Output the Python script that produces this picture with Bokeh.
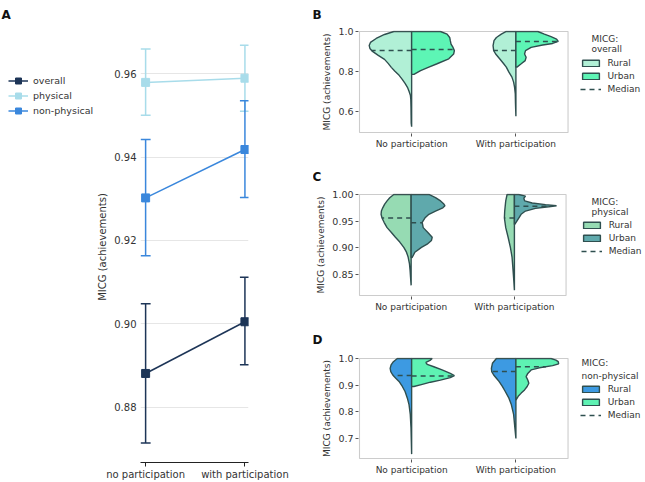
import numpy as np
from bokeh.plotting import figure
from bokeh.models import (ColumnDataSource, Whisker, TeeHead, Legend, LegendItem, Title, Label,
                          FixedTicker, Range1d, NumeralTickFormatter, BoxAnnotation)
from bokeh.layouts import row, column
from bokeh.embed import file_html
from bokeh.resources import INLINE

# ---------------- Panel A data ----------------
a_categories = ["no participation", "with participation"]
a_series = ["overall", "physical", "non-physical"]
a_colors = ["#1d3557", "#a8dcea", "#3a87dc"]
a_overall_mean = [0.8881, 0.9005]
a_overall_lo = [0.8714, 0.8902]
a_overall_hi = [0.9048, 0.9112]
a_physical_mean = [0.9579, 0.9589]
a_physical_lo = [0.9500, 0.9510]
a_physical_hi = [0.9659, 0.9668]
a_nonphys_mean = [0.9302, 0.9418]
a_nonphys_lo = [0.9163, 0.9303]
a_nonphys_hi = [0.9442, 0.9535]
a_yticks = [0.88, 0.90, 0.92, 0.94, 0.96]

# ---------------- Violin data (y level, half width) ----------------
v_categories = ["No participation", "With participation"]
v_groups = ["Rural", "Urban", "Median"]

# Panel B (overall)
b_np_rural_y = [1.0, 0.985, 0.965, 0.945, 0.93, 0.915, 0.90, 0.88, 0.86, 0.84, 0.82, 0.80, 0.78, 0.76, 0.74, 0.72, 0.70, 0.68, 0.66, 0.62, 0.58, 0.54, 0.522]
b_np_rural_w = [0.17, 0.26, 0.34, 0.395, 0.407, 0.40, 0.375, 0.32, 0.26, 0.225, 0.195, 0.16, 0.12, 0.09, 0.063, 0.04, 0.025, 0.012, 0.008, 0.006, 0.005, 0.004, 0.0]
b_np_urban_y = [1.0, 0.987, 0.97, 0.954, 0.937, 0.92, 0.904, 0.887, 0.863, 0.838, 0.821, 0.804, 0.785]
b_np_urban_w = [0.276, 0.34, 0.365, 0.371, 0.378, 0.397, 0.41, 0.403, 0.356, 0.244, 0.165, 0.086, 0.022]
b_wp_rural_y = [1.0, 0.987, 0.97, 0.954, 0.929, 0.904, 0.887, 0.863, 0.838, 0.821, 0.796, 0.771, 0.746, 0.721, 0.688, 0.64, 0.575]
b_wp_rural_w = [0.092, 0.14, 0.187, 0.21, 0.219, 0.213, 0.194, 0.156, 0.117, 0.092, 0.067, 0.038, 0.022, 0.013, 0.006, 0.004, 0.0]
b_wp_urban_y = [1.0, 0.987, 0.974, 0.962, 0.95, 0.94, 0.932, 0.92, 0.904, 0.887, 0.871, 0.854, 0.838, 0.821]
b_wp_urban_w = [0.21, 0.273, 0.337, 0.39, 0.406, 0.352, 0.257, 0.146, 0.092, 0.083, 0.098, 0.089, 0.051, 0.01]
b_median_rural = [0.904, 0.904]
b_median_urban = [0.910, 0.950]
b_yticks = [0.6, 0.8, 1.0]
b_ylim = (0.493, 1.0)

# Panel C (physical)
c_np_rural_y = [1.0, 0.994, 0.988, 0.982, 0.975, 0.969, 0.963, 0.956, 0.948, 0.938, 0.929, 0.92, 0.911, 0.901, 0.892, 0.883, 0.87, 0.858, 0.846, 0.83]
c_np_rural_w = [0.168, 0.207, 0.233, 0.256, 0.275, 0.288, 0.291, 0.282, 0.262, 0.233, 0.191, 0.152, 0.11, 0.071, 0.045, 0.029, 0.016, 0.01, 0.006, 0.0]
c_np_urban_y = [1.0, 0.994, 0.988, 0.982, 0.979, 0.975, 0.969, 0.963, 0.956, 0.948, 0.938, 0.929, 0.92, 0.914, 0.907, 0.901, 0.892, 0.882]
c_np_urban_w = [0.172, 0.236, 0.285, 0.317, 0.327, 0.307, 0.236, 0.172, 0.133, 0.107, 0.117, 0.162, 0.204, 0.197, 0.155, 0.1, 0.036, 0.01]
c_wp_rural_y = [1.0, 0.988, 0.969, 0.956, 0.938, 0.92, 0.901, 0.883, 0.858, 0.839, 0.821]
c_wp_rural_w = [0.071, 0.084, 0.094, 0.097, 0.084, 0.061, 0.039, 0.023, 0.013, 0.006, 0.0]
c_wp_urban_y = [1.0, 0.997, 0.993, 0.988, 0.984, 0.981, 0.979, 0.977, 0.974, 0.969, 0.963, 0.956, 0.948, 0.944]
c_wp_urban_w = [0.042, 0.107, 0.091, 0.1, 0.172, 0.301, 0.408, 0.333, 0.204, 0.107, 0.065, 0.042, 0.016, 0.003]
c_median_rural = [0.956, 0.956]
c_median_urban = [0.947, 0.978]
c_yticks = [0.85, 0.90, 0.95, 1.00]
c_ylim = (0.811, 1.0)

# Panel D (non-physical)
d_np_rural_y = [1.0, 0.988, 0.976, 0.963, 0.951, 0.938, 0.926, 0.914, 0.895, 0.876, 0.851, 0.827, 0.79, 0.74, 0.69, 0.641]
d_np_rural_w = [0.137, 0.175, 0.197, 0.206, 0.2, 0.181, 0.152, 0.121, 0.089, 0.063, 0.041, 0.025, 0.013, 0.006, 0.003, 0.0]
d_np_urban_y = [1.0, 0.994, 0.985, 0.978, 0.969, 0.957, 0.944, 0.936, 0.928, 0.919, 0.911, 0.903, 0.895]
d_np_urban_w = [0.197, 0.181, 0.137, 0.149, 0.213, 0.292, 0.371, 0.41, 0.371, 0.276, 0.181, 0.102, 0.022]
d_wp_rural_y = [1.0, 0.982, 0.963, 0.951, 0.938, 0.926, 0.914, 0.895, 0.876, 0.851, 0.827, 0.79, 0.74, 0.70]
d_wp_rural_w = [0.187, 0.225, 0.235, 0.232, 0.213, 0.187, 0.162, 0.13, 0.102, 0.067, 0.044, 0.022, 0.01, 0.0]
d_wp_urban_y = [1.0, 0.994, 0.988, 0.98, 0.973, 0.965, 0.957, 0.944, 0.932, 0.919, 0.907, 0.895, 0.882, 0.87, 0.858, 0.845]
d_wp_urban_w = [0.337, 0.384, 0.406, 0.41, 0.352, 0.225, 0.146, 0.114, 0.098, 0.114, 0.124, 0.108, 0.083, 0.051, 0.022, 0.003]
d_median_rural = [0.936, 0.951]
d_median_urban = [0.934, 0.969]
d_yticks = [0.7, 0.8, 0.9, 1.0]
d_ylim = (0.6245, 1.0)

FONT = "DejaVu Sans"
TXT = "#333333"
EDGE = "#2f4f4f"
FRAME = "#555555"
H = 482


def letter_title(letter, offset, standoff):
    return Title(text=letter, align="left", offset=offset, vertical_align="top",
                 standoff=standoff, text_font=FONT, text_font_size="12px",
                 text_font_style="bold", text_color="#111111")


# ---------------- Panel A legend strip ----------------
strip = figure(width=94, height=H, min_border_left=8, min_border_right=0,
               min_border_top=30, min_border_bottom=19,
               x_axis_type=None, y_axis_type=None,
               x_range=Range1d(10, 11), y_range=Range1d(10, 11),
               output_backend="svg", toolbar_location=None)
strip.outline_line_color = None
strip.grid.grid_line_color = None
strip_items = []
for name, mean, color in zip(a_series, [a_overall_mean, a_physical_mean, a_nonphys_mean], a_colors):
    lr0 = strip.line([0, 1], mean, line_color=color, line_width=1.5)
    sr0 = strip.scatter([0, 1], mean, marker="square", size=8, fill_color=color, line_color=color)
    strip_items.append(LegendItem(label=name, renderers=[lr0, sr0]))
leg_a = Legend(items=strip_items, location=(0, 344), glyph_width=20, glyph_height=15,
               label_height=15, spacing=0, label_standoff=5, padding=0, margin=0,
               border_line_color=None, background_fill_alpha=0,
               label_text_font=FONT, label_text_font_size="9.5px", label_text_color=TXT)
strip.add_layout(leg_a)
strip.add_layout(letter_title("A", -7, 15), "above")

# ---------------- Panel A ----------------
pa = figure(width=219, height=H, min_border_left=42, min_border_right=65,
            min_border_top=30, min_border_bottom=19,
            x_range=Range1d(-0.0515, 1.036), y_range=Range1d(0.86675, 0.97010),
            output_backend="svg", toolbar_location=None)
pa.outline_line_color = None
pa.xgrid.grid_line_color = None
pa.ygrid.grid_line_color = "#e6e6e6"
pa.yaxis.ticker = FixedTicker(ticks=a_yticks)
pa.yaxis.formatter = NumeralTickFormatter(format="0.00")
pa.yaxis.axis_line_color = None
pa.yaxis.major_tick_line_color = None
pa.yaxis.major_tick_in = 0
pa.yaxis.major_tick_out = 0
pa.yaxis.minor_tick_line_color = None
pa.yaxis.minor_tick_in = 0
pa.yaxis.minor_tick_out = 0
pa.yaxis.major_label_standoff = 4
pa.yaxis.axis_label = "MICG (achievements)"
pa.yaxis.axis_label_standoff = 3
pa.xaxis.ticker = FixedTicker(ticks=[0, 1])
pa.xaxis.major_label_overrides = {i: c for i, c in enumerate(a_categories)}
pa.xaxis.axis_line_color = "#222222"
pa.xaxis.axis_line_width = 1.2
pa.xaxis.major_tick_line_color = "#222222"
pa.xaxis.major_tick_in = 0
pa.xaxis.major_tick_out = 4
pa.xaxis.minor_tick_line_color = None
pa.xaxis.major_label_standoff = 2
for ax in (pa.xaxis, pa.yaxis):
    ax.major_label_text_font = FONT
    ax.major_label_text_font_size = "10px"
    ax.major_label_text_color = TXT
    ax.axis_label_text_font = FONT
    ax.axis_label_text_font_size = "10px"
    ax.axis_label_text_font_style = "normal"
    ax.axis_label_text_color = TXT

a_x = [0, 1]
for name, mean, lo, hi, color in zip(
        a_series,
        [a_overall_mean, a_physical_mean, a_nonphys_mean],
        [a_overall_lo, a_physical_lo, a_nonphys_lo],
        [a_overall_hi, a_physical_hi, a_nonphys_hi],
        a_colors):
    src = ColumnDataSource(dict(x=a_x, y=mean, lo=lo, hi=hi))
    wk = Whisker(source=src, base="x", upper="hi", lower="lo", dimension="height",
                 line_color=color, line_width=1.5,
                 upper_head=TeeHead(size=10, line_color=color, line_width=1.5),
                 lower_head=TeeHead(size=10, line_color=color, line_width=1.5))
    pa.add_layout(wk)
    pa.line("x", "y", source=src, line_color=color, line_width=1.5)
    pa.scatter("x", "y", source=src, marker="square", size=8, fill_color=color, line_color=color)


# ---------------- Violin panels ----------------
def half_poly(center, side, ys, ws):
    ys = list(ys)
    ws = list(ws)
    xs = [center + side * w for w in ws] + [center, center]
    yy = ys + [ys[-1], ys[0]]
    return xs, yy


def edge_at(level, ys, ws):
    return float(np.interp(level, np.array(ys)[::-1], np.array(ws)[::-1]))


MBL = 43


def violin_panel(letter, height, mbt, frame_h, px_x, ylim, yticks, yfmt,
                 rural_color, urban_color, rural_halves, urban_halves,
                 med_rural, med_urban, subtitle, leg_loc, title_x, title_y, letter_standoff):
    width = 332
    frame_w = width - MBL
    px_y = (frame_h - 2) / (ylim[1] - ylim[0])
    x0r = -0.5 - 1.0 / px_x
    y1r = ylim[1] + 1.0 / px_y
    p = figure(width=width, height=height, min_border_left=MBL, min_border_right=0,
               min_border_top=mbt, min_border_bottom=height - mbt - frame_h,
               x_range=Range1d(x0r, x0r + frame_w / px_x),
               y_range=Range1d(y1r - frame_h / px_y, y1r),
               output_backend="svg", toolbar_location=None)
    p.grid.grid_line_color = None
    p.outline_line_color = None
    p.add_layout(BoxAnnotation(left=-0.5, right=1.5, bottom=ylim[0], top=ylim[1],
                               fill_alpha=0, line_color=FRAME, line_width=1.1))
    p.yaxis.ticker = FixedTicker(ticks=yticks)
    p.yaxis.formatter = NumeralTickFormatter(format=yfmt)
    p.xaxis.ticker = FixedTicker(ticks=[0, 1])
    p.xaxis.major_label_overrides = {i: c for i, c in enumerate(v_categories)}
    p.yaxis.axis_label = "MICG (achievements)"
    for ax, fs in ((p.xaxis, "9px"), (p.yaxis, "9.5px")):
        ax.axis_line_color = None
        ax.major_tick_line_color = FRAME
        ax.major_tick_in = 0
        ax.major_tick_out = 3
        ax.minor_tick_line_color = None
        ax.major_label_standoff = 2
        ax.major_label_text_font = FONT
        ax.major_label_text_font_size = fs
        ax.major_label_text_color = TXT
        ax.axis_label_text_font = FONT
        ax.axis_label_text_font_size = "9px"
        ax.axis_label_text_font_style = "normal"
        ax.axis_label_text_color = TXT
        ax.axis_label_standoff = 3

    rx, ry, ux, uy = [], [], [], []
    for c, (ys, ws) in enumerate(rural_halves):
        xs, yy = half_poly(c, -1, ys, ws)
        rx.append(xs); ry.append(yy)
    for c, (ys, ws) in enumerate(urban_halves):
        xs, yy = half_poly(c, 1, ys, ws)
        ux.append(xs); uy.append(yy)
    rr = p.patches(rx, ry, fill_color=rural_color, line_color=EDGE, line_width=1.4)
    ur = p.patches(ux, uy, fill_color=urban_color, line_color=EDGE, line_width=1.4)

    x0, x1, y0 = [], [], []
    for c, (ys, ws) in enumerate(rural_halves):
        x0.append(c); x1.append(c - edge_at(med_rural[c], ys, ws)); y0.append(med_rural[c])
    for c, (ys, ws) in enumerate(urban_halves):
        x0.append(c); x1.append(c + edge_at(med_urban[c], ys, ws)); y0.append(med_urban[c])
    mr = p.segment(x0=x0, y0=y0, x1=x1, y1=y0, line_color=EDGE, line_width=1.5,
                   line_dash="5 4")

    leg = Legend(items=[LegendItem(label=v_groups[0], renderers=[rr]),
                        LegendItem(label=v_groups[1], renderers=[ur]),
                        LegendItem(label=v_groups[2], renderers=[mr])],
                 location=leg_loc, glyph_width=21, glyph_height=8, label_height=12,
                 spacing=1, label_standoff=7, padding=0, margin=0,
                 border_line_color=None, background_fill_alpha=0,
                 label_text_font=FONT, label_text_font_size="9px", label_text_color=TXT)
    p.add_layout(leg)
    for txt, ty in (("MICG:", title_y[0]), (subtitle, title_y[1])):
        p.add_layout(Label(x=title_x, y=ty, x_units="screen", y_units="screen", text=txt,
                           text_font=FONT, text_font_size="9px", text_color=TXT,
                           text_baseline="middle", text_align="left"))
    p.add_layout(letter_title(letter, -MBL - 3, letter_standoff), "above")
    return p


pb = violin_panel("B", 161, 29, 104, 105, b_ylim, b_yticks, "0.0",
                  "#b1f0d6", "#5df5b5",
                  [(b_np_rural_y, b_np_rural_w), (b_wp_rural_y, b_wp_rural_w)],
                  [(b_np_urban_y, b_np_urban_w), (b_wp_urban_y, b_wp_urban_w)],
                  b_median_rural, b_median_urban, "overall", (221.5, 38.4), 233, (94.7, 84.7), 14)
pc = violin_panel("C", 163, 31, 104, 104, c_ylim, c_yticks, "0.00",
                  "#96dbb3", "#5fa9ac",
                  [(c_np_rural_y, c_np_rural_w), (c_wp_rural_y, c_wp_rural_w)],
                  [(c_np_urban_y, c_np_urban_w), (c_wp_urban_y, c_wp_urban_w)],
                  c_median_rural, c_median_urban, "physical", (222.7, 39), 233, (94.3, 84.3), 16)
pd_ = violin_panel("D", 158, 32, 103, 105, d_ylim, d_yticks, "0.0",
                   "#3d9ae2", "#5ef2b3",
                   [(d_np_rural_y, d_np_rural_w), (d_wp_rural_y, d_wp_rural_w)],
                   [(d_np_urban_y, d_np_urban_w), (d_wp_urban_y, d_wp_urban_w)],
                   d_median_rural, d_median_urban, "non-physical", (221.7, 37.7), 223, (97, 84), 17)

layout = row(strip, pa, column(pb, pc, pd_))
open("out.html", "w").write(file_html(layout, INLINE))
